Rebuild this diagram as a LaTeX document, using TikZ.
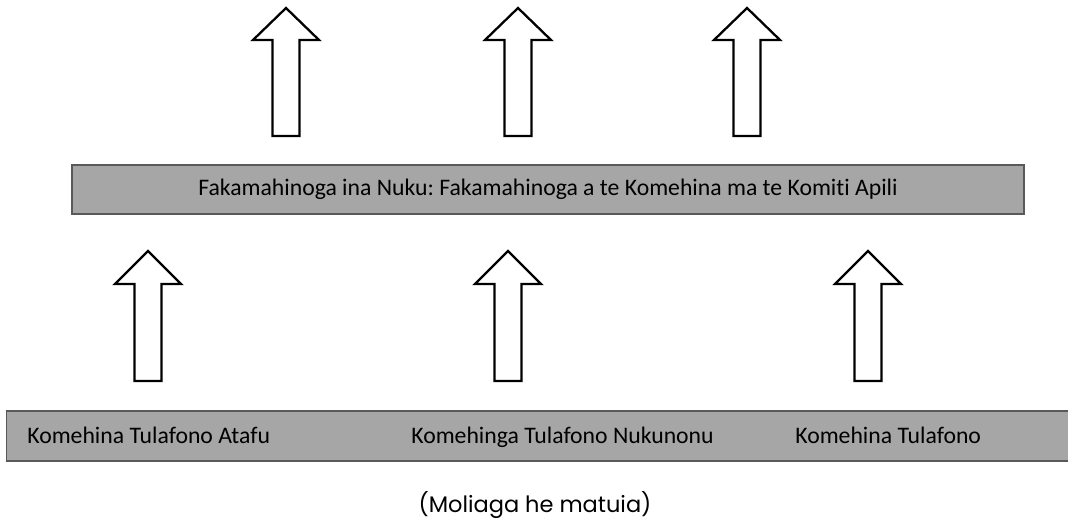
\documentclass[tikz,border=0pt]{standalone}
\usepackage{fontspec}
\setmainfont{Carlito}[Ligatures=NoCommon]
\newfontfamily\gothicfont{Poppins}
\definecolor{barfill}{HTML}{A6A6A6}
\definecolor{barline}{HTML}{595959}
\frenchspacing
\begin{document}
\begin{tikzpicture}[x=0.02cm, y=-0.02cm,
    bar/.style={draw=barline, fill=barfill, line width=0.8pt, inner sep=0pt},
    label/.style={font=\fontsize{13.5}{16}\selectfont, inner sep=0pt},
    blockarrow/.style={draw=black, fill=white, line width=1.3pt, line join=miter}]
  \useasboundingbox (0,0) rectangle (1068,527);

  % upper arrows
  \foreach \cx in {286, 518, 747} {
    \draw[blockarrow] (\cx, 8) -- ({\cx + 33}, 40) -- ({\cx + 13.5}, 40)
      -- ({\cx + 13.5}, 136) -- ({\cx - 13.5}, 136) -- ({\cx - 13.5}, 40)
      -- ({\cx - 33}, 40) -- cycle;
  }

  % appeal level
  \node[bar, minimum width=19.04cm, minimum height=0.98cm, label] (nuku) at (548, 189.5)
    {Fakamahinoga ina Nuku: Fakamahinoga a te Komehina ma te Komiti Apili};

  % lower arrows
  \foreach \cx in {148, 508, 868} {
    \draw[blockarrow] (\cx, 251) -- ({\cx + 33}, 284) -- ({\cx + 13.5}, 284)
      -- ({\cx + 13.5}, 381) -- ({\cx - 13.5}, 381) -- ({\cx - 13.5}, 284)
      -- ({\cx - 33}, 284) -- cycle;
  }

  % island courts
  \node[bar, minimum width=21.3cm, minimum height=1cm] (courts) at (539, 436) {};
  \node[label, anchor=base west] (atafu) at (27, 443) {Komehina Tulafono Atafu};
  \node[label, anchor=base west] (nukunonu) at (411, 443) {Komehinga Tulafono Nukunonu};
  \node[label, anchor=base west] (fakaofo) at (795, 443) {Komehina Tulafono};

  \node[font=\gothicfont\fontsize{12.8}{15}\selectfont, inner sep=0pt] (note) at (535, 505)
    {(Moliaga he matuia)};
\end{tikzpicture}
\end{document}
